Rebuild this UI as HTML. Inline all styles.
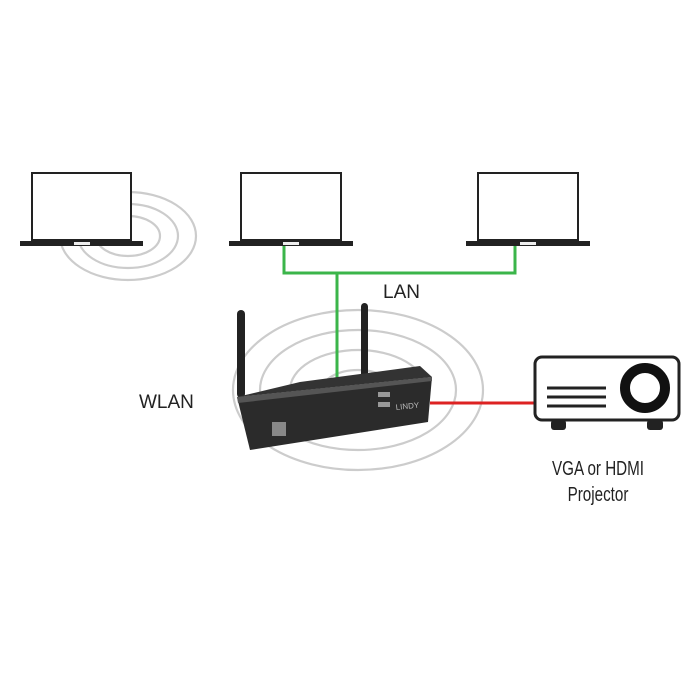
<!DOCTYPE html>
<html><head><style>body{margin:0;background:#fff}svg{display:block}</style></head><body>
<svg width="700" height="700" viewBox="0 0 700 700" xmlns="http://www.w3.org/2000/svg">
<g fill="none" stroke="#ccc" stroke-width="2.2">
<ellipse cx="358" cy="390" rx="125" ry="80"/>
<ellipse cx="358" cy="390" rx="98" ry="60"/>
<ellipse cx="358" cy="390" rx="68" ry="40"/>
<ellipse cx="358" cy="390" rx="36" ry="20"/>
<ellipse cx="128" cy="236" rx="68" ry="44"/>
<ellipse cx="128" cy="236" rx="50" ry="32"/>
<ellipse cx="128" cy="236" rx="32" ry="20"/>
</g>
<!-- laptops -->
<g stroke="#222" stroke-width="2" fill="#fff">
<rect x="32" y="173" width="99" height="67"/>
<rect x="241" y="173" width="100" height="67"/>
<rect x="478" y="173" width="100" height="67"/>
</g>
<g fill="#222">
<rect x="20" y="241" width="123" height="5"/>
<rect x="229" y="241" width="124" height="5"/>
<rect x="466" y="241" width="124" height="5"/>
</g>
<g fill="#eee">
<rect x="74" y="242" width="16" height="3"/>
<rect x="283" y="242" width="16" height="3"/>
<rect x="520" y="242" width="16" height="3"/>
</g>
<path d="M284 246 V273 H515 V246 M337 273 V378" fill="none" stroke="#3bb54a" stroke-width="3"/>
<path d="M430 403 H535" stroke="#d22" stroke-width="3"/>
<!-- router -->
<rect x="237" y="310" width="8" height="88" rx="4" fill="#222"/>
<rect x="361" y="303" width="7" height="80" rx="3.5" fill="#222"/>
<polygon points="237,397 300,382 420,366 432,377" fill="#333"/>
<polygon points="237,397 432,377 428,422 250,450" fill="#2b2b2b"/>
<polygon points="237,397 432,377 432,381 238,403" fill="#555"/>
<rect x="272" y="422" width="14" height="14" fill="#888"/>
<rect x="378" y="392" width="12" height="5" fill="#999"/>
<rect x="378" y="402" width="12" height="5" fill="#999"/>
<text x="396" y="410" font-family="Liberation Sans,sans-serif" font-size="8" fill="#bbb" transform="rotate(-6 396 410)">LINDY</text>
<!-- projector -->
<rect x="535" y="357" width="144" height="63" rx="7" fill="#fff" stroke="#222" stroke-width="3"/>
<circle cx="645" cy="388" r="20" fill="#fff" stroke="#111" stroke-width="10"/>
<g stroke="#222" stroke-width="3"><path d="M547 388H606M547 397H606M547 406H606"/></g>
<rect x="551" y="420" width="15" height="10" rx="3" fill="#222"/>
<rect x="647" y="420" width="16" height="10" rx="3" fill="#222"/>
<g font-family="Liberation Sans,sans-serif" fill="#222">
<text x="383" y="298" font-size="19">LAN</text>
<text x="139" y="408" font-size="19">WLAN</text>
<g transform="translate(598 0) scale(0.76 1)">
<text x="0" y="475" font-size="20" text-anchor="middle">VGA or HDMI</text>
<text x="0" y="501" font-size="20" text-anchor="middle">Projector</text>
</g>
</g>
</svg>
</body></html>
